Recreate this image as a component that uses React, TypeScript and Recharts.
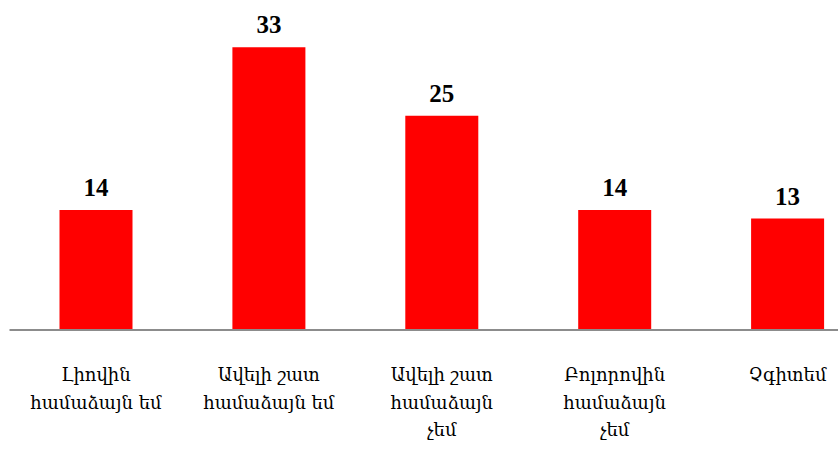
import { BarChart, Bar, XAxis, YAxis, LabelList } from "recharts";

const categories = [
  "Լիովին\nհամաձայն եմ",
  "Ավելի շատ\nհամաձայն եմ",
  "Ավելի շատ\nհամաձայն\nչեմ",
  "Բոլորովին\nհամաձայն\nչեմ",
  "Չգիտեմ",
];
const values = [14, 33, 25, 14, 13];

const data = categories.map((name, i) => ({ name, value: values[i] }));

const CategoryTick = (props: any) => {
  const { x, y, payload } = props;
  const lines = String(payload.value).split("\n");
  return (
    <text
      x={x}
      y={y}
      textAnchor="middle"
      fill="#000"
      fontFamily="'DejaVu Serif', serif"
      fontSize={18}
    >
      {lines.map((line, i) => (
        <tspan key={i} x={x} dy={i === 0 ? 43 : 27.5}>
          {line}
        </tspan>
      ))}
    </text>
  );
};

export default function App() {
  return (
    <div
      style={{
        position: "fixed",
        left: 0,
        top: 0,
        width: 838,
        height: 456,
        overflow: "hidden",
        background: "#fff",
      }}
    >
      <BarChart
        width={874}
        height={456}
        data={data}
        margin={{ top: 30, right: 0, bottom: 0, left: 9.5 }}
      >
        <XAxis
          dataKey="name"
          interval={0}
          tickLine={false}
          axisLine={{ stroke: "#8c8c8c", strokeWidth: 2 }}
          height={126}
          tick={<CategoryTick />}
        />
        <YAxis hide domain={[0, 35]} />
        <Bar dataKey="value" fill="#ff0000" barSize={73} isAnimationActive={false}>
          <LabelList
            dataKey="value"
            position="top"
            offset={14}
            fill="#000"
            fontFamily="'Liberation Serif', serif"
            fontWeight="bold"
            fontSize={25}
          />
        </Bar>
      </BarChart>
    </div>
  );
}
